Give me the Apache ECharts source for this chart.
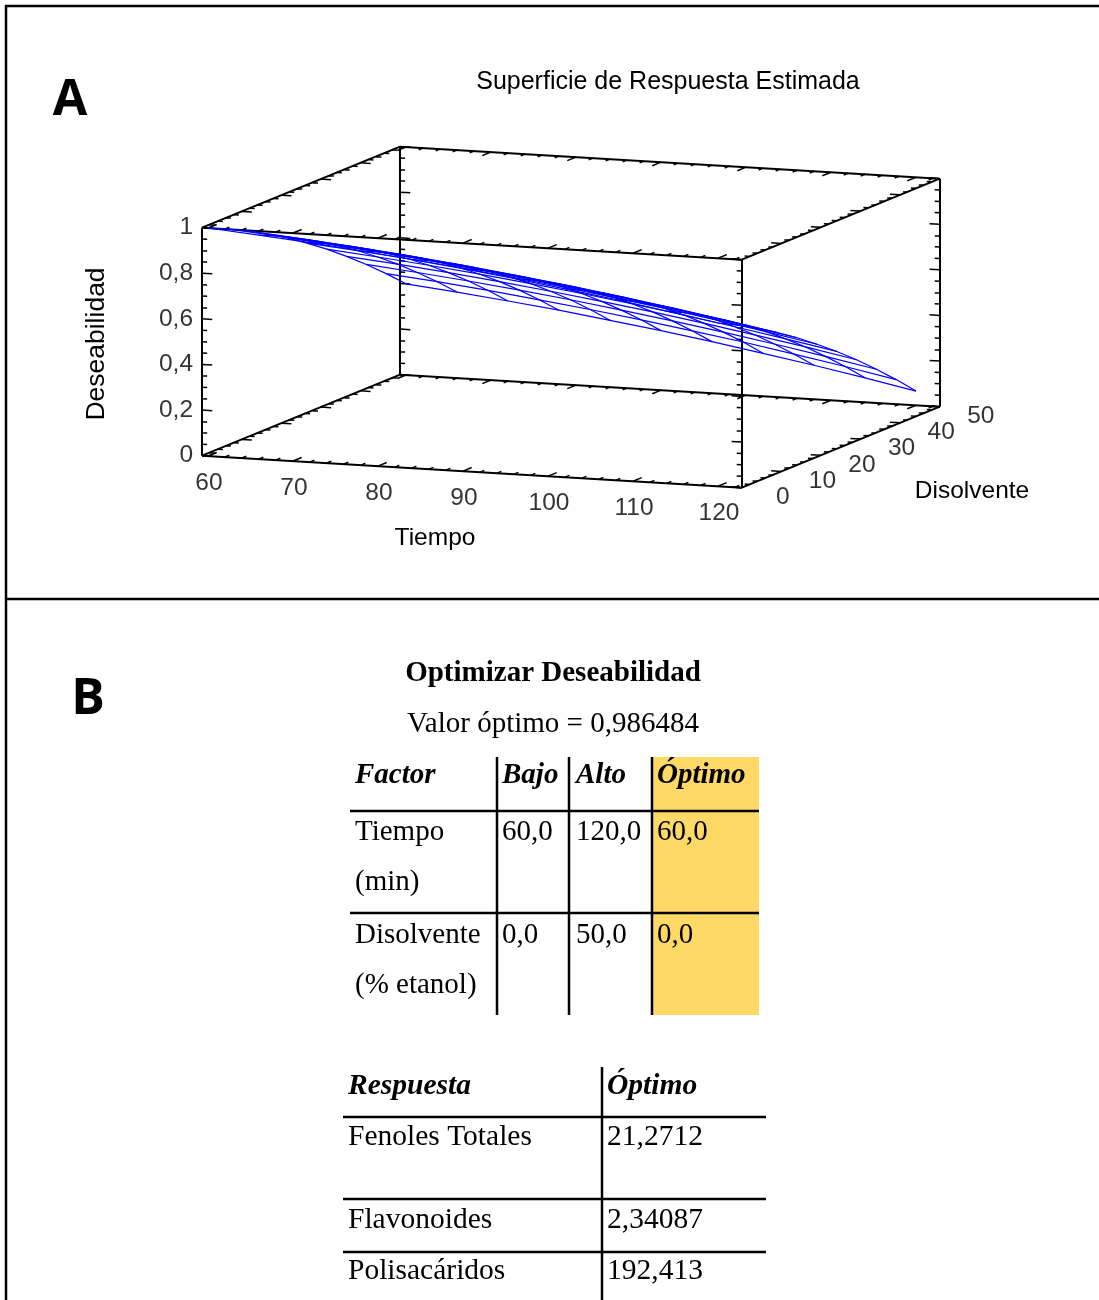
<!DOCTYPE html>
<html>
<head>
<meta charset="utf-8">
<script src="https://cdn.jsdelivr.net/npm/echarts@6/dist/echarts.min.js"></script>
<style>
html, body { margin: 0; padding: 0; background: #fff; }
#chart { width: 1099px; height: 1300px; }
</style>
</head>
<body>
<div id="chart"></div>
<script>
// surface grid (rows = Tiempo, columns = Disolvente)
const tiempo = [60, 66, 72, 78, 84, 90, 96, 102, 108, 114, 120];
const disolvente = [0, 5, 10, 15, 20, 25, 30, 35, 40, 45, 50];
const deseabilidad = [
    [1.000, 0.960, 0.916, 0.867, 0.814, 0.756, 0.694, 0.627, 0.556, 0.480, 0.400],
    [0.982, 0.942, 0.897, 0.848, 0.794, 0.736, 0.673, 0.606, 0.534, 0.458, 0.377],
    [0.962, 0.921, 0.876, 0.826, 0.772, 0.713, 0.650, 0.582, 0.510, 0.433, 0.351],
    [0.940, 0.898, 0.853, 0.802, 0.747, 0.688, 0.624, 0.556, 0.483, 0.405, 0.324],
    [0.915, 0.873, 0.827, 0.776, 0.720, 0.660, 0.596, 0.527, 0.454, 0.376, 0.293],
    [0.888, 0.845, 0.798, 0.747, 0.691, 0.631, 0.566, 0.496, 0.422, 0.344, 0.261],
    [0.858, 0.815, 0.768, 0.716, 0.659, 0.598, 0.533, 0.463, 0.388, 0.309, 0.226],
    [0.826, 0.783, 0.735, 0.682, 0.625, 0.564, 0.498, 0.427, 0.352, 0.273, 0.188],
    [0.792, 0.748, 0.699, 0.646, 0.589, 0.527, 0.460, 0.389, 0.313, 0.233, 0.149],
    [0.755, 0.711, 0.662, 0.608, 0.550, 0.487, 0.420, 0.349, 0.272, 0.192, 0.107],
    [0.716, 0.671, 0.621, 0.567, 0.509, 0.445, 0.378, 0.306, 0.229, 0.148, 0.062]
];

const tiempoTicks = [60, 70, 80, 90, 100, 110, 120];
const disolventeTicks = [0, 10, 20, 30, 40, 50];
const deseabilidadTicks = [0, 0.2, 0.4, 0.6, 0.8, 1];
const deseabilidadLabels = ['0', '0,2', '0,4', '0,6', '0,8', '1'];

// panel B tables
const valorOptimo = '0,986484';
const factorHeader = ['Factor', 'Bajo', 'Alto', 'Óptimo'];
const factorNames = [['Tiempo', '(min)'], ['Disolvente', '(% etanol)']];
const factorBajo = ['60,0', '0,0'];
const factorAlto = ['120,0', '50,0'];
const factorOptimo = ['60,0', '0,0'];
const respuestaHeader = ['Respuesta', 'Óptimo'];
const respuestas = ['Fenoles Totales', 'Flavonoides', 'Polisacáridos'];
const respuestaOptimo = ['21,2712', '2,34087', '192,413'];

// 3D box ranges and the screen projection (orthographic)
const tiempoRange = [59.3, 122.8];
const disolventeRange = [0, 50];
const zRange = [0, 1];

function project(t, d, z) {
    return [208 + 8.5 * (t - 60) + 3.96 * d, 456 + 0.504 * (t - 60) - 1.62 * d - 228 * z];
}

const [t0, t1] = tiempoRange;
const [d0, d1] = disolventeRange;
const [z0, z1] = zRange;

// box edges
const boxEdges = [];
[d0, d1].forEach(d => [z0, z1].forEach(z => boxEdges.push({ coords: [project(t0, d, z), project(t1, d, z)] })));
[t0, t1].forEach(t => [z0, z1].forEach(z => boxEdges.push({ coords: [project(t, d0, z), project(t, d1, z)] })));
[t0, t1].forEach(t => [d0, d1].forEach(d => boxEdges.push({ coords: [project(t, d, z0), project(t, d, z1)] })));

// tick marks on every edge, pointing into the box
const ticks = [];
for (let t = 60; t <= 122; t += 2) {
    const len = t % 10 === 0 ? 2.2 : 1.1;
    [d0, d1].forEach(d => [z0, z1].forEach(z => {
        const dir = d === d0 ? 1 : -1;
        ticks.push({ coords: [project(t, d, z), project(t, d + dir * len, z)] });
    }));
}
for (let d = 0; d <= 50; d += 2) {
    const len = d % 10 === 0 ? 1.2 : 0.6;
    [t0, t1].forEach(t => [z0, z1].forEach(z => {
        const dir = t === t0 ? 1 : -1;
        ticks.push({ coords: [project(t, d, z), project(t + dir * len, d, z)] });
    }));
}
for (let k = 0; k <= 20; k++) {
    const z = k * 0.05;
    const len = k % 4 === 0 ? 1.2 : 0.6;
    [t0, t1].forEach(t => [d0, d1].forEach(d => {
        const dir = t === t0 ? 1 : -1;
        ticks.push({ coords: [project(t, d, z), project(t + dir * len, d, z)] });
    }));
}

// wireframe
const mesh = [];
tiempo.forEach((t, i) => {
    mesh.push({ coords: disolvente.map((d, j) => project(t, d, deseabilidad[i][j])) });
});
disolvente.forEach((d, j) => {
    mesh.push({ coords: tiempo.map((t, i) => project(t, d, deseabilidad[i][j])) });
});

// tick labels
const tiempoLabelData = tiempoTicks.map(t => {
    const p = project(t, 0, 0);
    return { name: String(t), value: [p[0] + 1, p[1] + 27] };
});
const disolventeLabelData = disolventeTicks.map(d => {
    const p = project(t1, d, 0);
    return { name: String(d), value: [p[0] + 41, p[1] + 9.5] };
});
const zLabelData = deseabilidadTicks.map((z, i) => {
    const p = project(t0, 0, z);
    return { name: deseabilidadLabels[i], value: [p[0] - 9, p[1]] };
});

const sans = '"Liberation Sans", Arial, sans-serif';
const serif = '"Liberation Serif", "Times New Roman", serif';

function labelSeries(data, align) {
    return {
        type: 'scatter',
        data: data,
        symbolSize: 1,
        itemStyle: { color: 'rgba(0,0,0,0)' },
        silent: true,
        label: {
            show: true,
            position: 'inside',
            formatter: '{b}',
            align: align,
            verticalAlign: 'middle',
            color: '#000',
            fontFamily: sans,
            fontSize: 24.5
        }
    };
}

function text(str, x, y, font, align, extra) {
    return Object.assign({
        type: 'text',
        x: x,
        y: y,
        style: {
            text: str,
            font: font,
            fill: '#000',
            align: align || 'left',
            verticalAlign: 'middle',
            textAlign: align || 'left',
            textVerticalAlign: 'middle'
        }
    }, extra || {});
}

function line(x1, y1, x2, y2, w) {
    return { type: 'line', shape: { x1, y1, x2, y2 }, style: { stroke: '#000', lineWidth: w || 2 } };
}

const graphics = [];
// frame
graphics.push(line(5, 6, 1099, 6, 2.5));
graphics.push(line(6, 5, 6, 1300, 2.5));
graphics.push(line(5, 599, 1099, 599, 2.5));

// panel A texts
graphics.push(text('A', 70, 101, 'bold 50px "Open Sans", sans-serif', 'center'));
graphics.push(text('Superficie de Respuesta Estimada', 668, 82, '25px ' + sans, 'center'));
graphics.push(text('Tiempo', 435, 538, '24.5px ' + sans, 'center'));
graphics.push(text('Disolvente', 972, 491, '24.5px ' + sans, 'center'));
graphics.push(text('Deseabilidad', 97, 344, '26.5px ' + sans, 'center', { rotation: Math.PI / 2 }));

// panel B
graphics.push(text('B', 88, 700, 'bold 50px "Open Sans", sans-serif', 'center'));
graphics.push(text('Optimizar Deseabilidad', 553, 674, 'bold 29px ' + serif, 'center'));
graphics.push(text('Valor óptimo = ' + valorOptimo, 553, 724, '29px ' + serif, 'center'));

// factor table
const f1 = { left: 350, right: 759, top: 757, bottom: 1015, seps: [497, 569, 652], rows: [811, 913] };
graphics.push({ type: 'rect', shape: { x: f1.seps[2], y: f1.top, width: f1.right - f1.seps[2], height: f1.bottom - f1.top }, style: { fill: '#FFD966' } });
f1.seps.forEach(x => graphics.push(line(x, f1.top, x, f1.bottom, 2.5)));
f1.rows.forEach(y => graphics.push(line(f1.left, y, f1.right, y, 2.5)));
const f1TextX = [355, 502, 576, 657];
factorHeader.forEach((h, i) => graphics.push(text(h, f1TextX[i], 776, 'italic bold 29px ' + serif, 'left')));
const f1RowY = [[832, 882], [935, 985]];
factorNames.forEach((names, r) => {
    graphics.push(text(names[0], f1TextX[0], f1RowY[r][0], '29px ' + serif, 'left'));
    graphics.push(text(names[1], f1TextX[0], f1RowY[r][1], '29px ' + serif, 'left'));
    graphics.push(text(factorBajo[r], f1TextX[1], f1RowY[r][0], '29px ' + serif, 'left'));
    graphics.push(text(factorAlto[r], f1TextX[2], f1RowY[r][0], '29px ' + serif, 'left'));
    graphics.push(text(factorOptimo[r], f1TextX[3], f1RowY[r][0], '29px ' + serif, 'left'));
});

// response table
const f2 = { left: 343, right: 766, top: 1067, bottom: 1300, sep: 602, rows: [1117, 1199, 1252] };
graphics.push(line(f2.sep, f2.top, f2.sep, f2.bottom, 2.5));
f2.rows.forEach(y => graphics.push(line(f2.left, y, f2.right, y, 2.5)));
const f2TextX = [348, 607];
respuestaHeader.forEach((h, i) => graphics.push(text(h, f2TextX[i], 1086, 'italic bold 29.5px ' + serif, 'left')));
const f2RowY = [1137, 1220, 1271];
respuestas.forEach((r, i) => {
    graphics.push(text(r, f2TextX[0], f2RowY[i], '29.5px ' + serif, 'left'));
    graphics.push(text(respuestaOptimo[i], f2TextX[1], f2RowY[i], '29.5px ' + serif, 'left'));
});

const chart = echarts.init(document.getElementById('chart'));
chart.setOption({
    animation: false,
    backgroundColor: '#fff',
    grid: { left: 0, top: 0, width: 1099, height: 1300 },
    xAxis: { type: 'value', min: 0, max: 1099, show: false },
    yAxis: { type: 'value', min: 0, max: 1300, inverse: true, show: false },
    series: [
        {
            type: 'lines',
            coordinateSystem: 'cartesian2d',
            data: boxEdges,
            silent: true,
            lineStyle: { color: '#000', width: 2, opacity: 1 }
        },
        {
            type: 'lines',
            coordinateSystem: 'cartesian2d',
            data: ticks,
            silent: true,
            lineStyle: { color: '#000', width: 1.5, opacity: 1 }
        },
        {
            type: 'lines',
            coordinateSystem: 'cartesian2d',
            polyline: true,
            data: mesh,
            silent: true,
            lineStyle: { color: '#0000FF', width: 1.2, opacity: 1 }
        },
        labelSeries(tiempoLabelData, 'center'),
        labelSeries(disolventeLabelData, 'center'),
        labelSeries(zLabelData, 'right')
    ],
    graphic: graphics
});
</script>
</body>
</html>
